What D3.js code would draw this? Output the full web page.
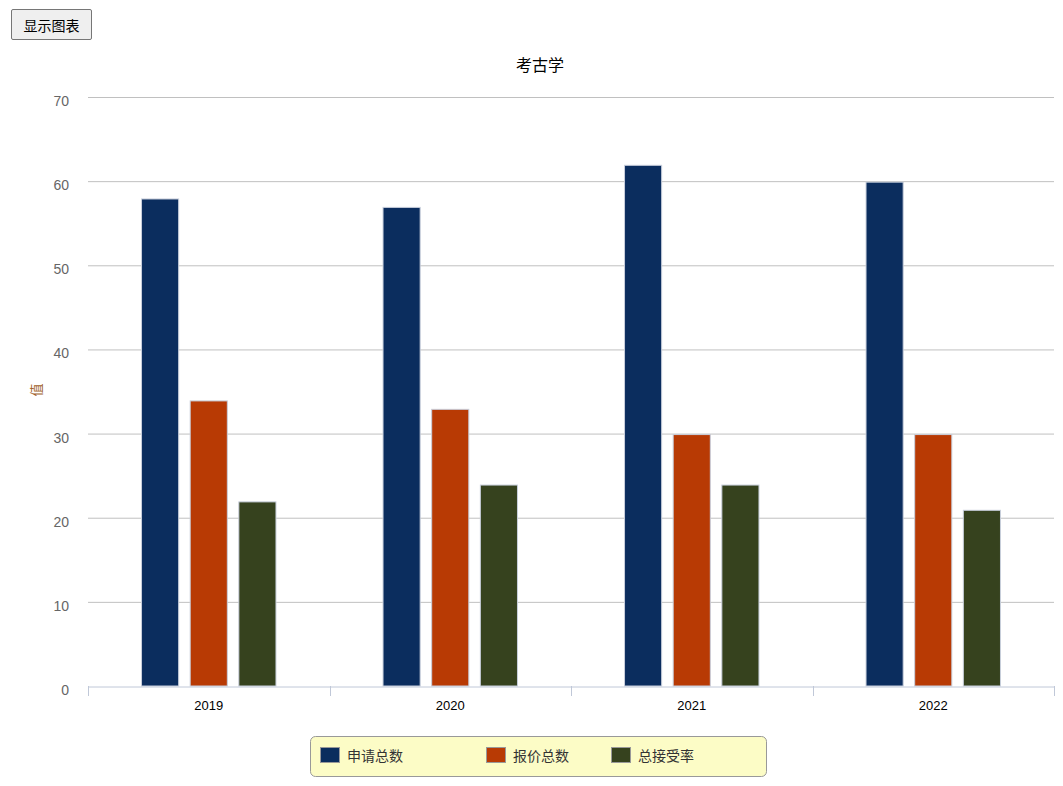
<!DOCTYPE html>
<html><head><meta charset="utf-8">
<script src="https://cdn.jsdelivr.net/npm/d3@7/dist/d3.min.js"></script>
<style>
body{margin:0;padding:0;background:#fff;font-family:"Liberation Sans","Noto Sans CJK SC",Arial,sans-serif;}
#btn{position:absolute;left:11px;top:9px;width:81px;height:31px;font-family:"Noto Sans CJK SC",sans-serif;font-size:14px;background:#efefef;border:1px solid #767676;border-radius:2px;padding:0;color:#000;}
svg{position:absolute;left:0;top:0;}
</style></head>
<body>
<svg id="chart" width="1063" height="786"></svg>
<button id="btn">显示图表</button>
<script>
const title = "考古学";
const yAxisLabel = "值";
const categories = ["2019","2020","2021","2022"];
const seriesNames = ["申请总数","报价总数","总接受率"];
const applyTotal = [58,57,62,60];
const offerTotal = [34,33,30,30];
const acceptTotal = [22,24,24,21];
const yTicks = [0,10,20,30,40,50,60,70];
const colors = ["#0b2d5e","#b83a04","#36421e"];
const series = [applyTotal, offerTotal, acceptTotal];

const svg = d3.select("#chart");
const pLeft = 88, pRight = 1054, pTop = 97, pBottom = 686;
const x = d3.scaleBand().domain(categories).range([pLeft,pRight]).paddingInner(0).paddingOuter(0);
const xs = d3.scaleBand().domain(seriesNames).range([0,x.bandwidth()]).paddingInner(0.237).paddingOuter(1.1);
const y = d3.scaleLinear().domain([0,70]).range([pBottom,pTop]);

svg.append("text").attr("x",540).attr("y",71).attr("text-anchor","middle")
  .style("font-family","'Noto Sans CJK SC',sans-serif").style("font-size","16px").attr("fill","#000").text(title);

// grid
svg.append("g").selectAll("line").data(yTicks.filter(d=>d>0)).join("line")
  .attr("x1",pLeft).attr("x2",pRight).attr("y1",d=>y(d)+0.5).attr("y2",d=>y(d)+0.5)
  .attr("stroke","#c0c0c0").attr("stroke-width",1);

// y axis labels
const ya = svg.append("g").attr("transform",`translate(${pLeft},4)`)
  .call(d3.axisLeft(y).tickValues(yTicks).tickSize(0).tickPadding(19));
ya.select(".domain").remove();
ya.selectAll("text").attr("fill","#666").style("font-family","'Liberation Sans',Arial,sans-serif").style("font-size","14px");

// bars
categories.forEach((c,i)=>{
  series.forEach((s,j)=>{
    svg.append("rect").attr("x",x(c)+xs(seriesNames[j])).attr("width",xs.bandwidth())
      .attr("y",y(s[i])+1).attr("height",pBottom-y(s[i])-1)
      .attr("fill",colors[j]).attr("stroke","#c8cfdc").attr("stroke-width",1);
  });
});

// x axis
const xa = svg.append("g").attr("transform",`translate(0,${pBottom+0.5})`)
  .call(d3.axisBottom(x).tickSize(0).tickPadding(14));
xa.select(".domain").attr("stroke","#c0c8d8");
xa.selectAll("text").attr("fill","#000").style("font-family","'Liberation Sans',Arial,sans-serif").style("font-size","13px");
const bounds = categories.map(c=>x(c)).concat([pRight]);
svg.append("g").selectAll("line").data(bounds).join("line")
  .attr("x1",d=>Math.round(d)+0.5).attr("x2",d=>Math.round(d)+0.5).attr("y1",pBottom).attr("y2",pBottom+10)
  .attr("stroke","#c0c8d8");

// y axis title
svg.append("text").attr("transform","translate(41,390) rotate(-90)").attr("text-anchor","middle")
  .style("font-family","'Noto Sans CJK SC',sans-serif").style("font-size","13px").attr("fill","#a0602a").text(yAxisLabel);

// legend
const lg = svg.append("g");
lg.append("rect").attr("x",310.5).attr("y",736.5).attr("width",456).attr("height",40).attr("rx",5)
  .attr("fill","#fcfcc6").attr("stroke","#999").attr("stroke-width",1);
const lx = [320,486,611];
seriesNames.forEach((n,j)=>{
  lg.append("rect").attr("x",lx[j]+0.5).attr("y",747.5).attr("width",19).attr("height",15)
    .attr("fill",colors[j]).attr("stroke","#999").attr("stroke-width",1);
  lg.append("text").attr("x",lx[j]+27).attr("y",761).style("font-family","'Noto Sans CJK SC',sans-serif")
    .style("font-size","14px").attr("fill","#333").text(n);
});
</script>
</body></html>
